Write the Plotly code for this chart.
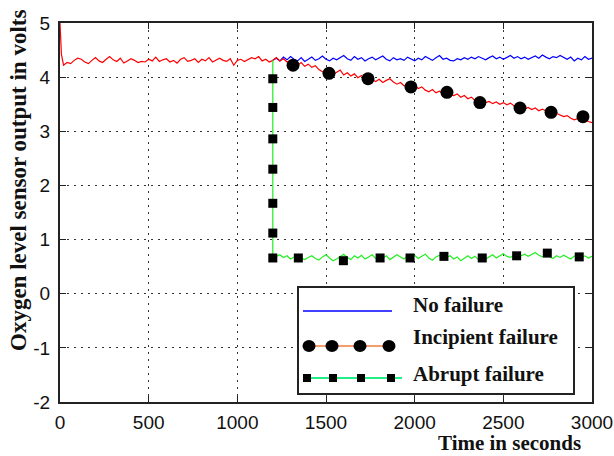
import plotly.graph_objects as go

# ---------------- data ----------------
# Incipient failure (red), sampled every 20 s (plus the start spike)
red_t = [0, 8] + list(range(20, 3001, 20))
red_y = [5.00, 4.42,
         4.22, 4.27, 4.25, 4.31, 4.35, 4.33, 4.28, 4.25, 4.31, 4.36,
         4.30, 4.27, 4.33, 4.38, 4.32, 4.29, 4.35, 4.26, 4.30, 4.34,
         4.31, 4.27, 4.29, 4.28, 4.33, 4.30, 4.37, 4.29, 4.32, 4.34,
         4.28, 4.31, 4.26, 4.33, 4.36, 4.29, 4.31, 4.34, 4.27, 4.33,
         4.30, 4.36, 4.28, 4.32, 4.35, 4.31, 4.29, 4.34, 4.22, 4.31,
         4.33, 4.29, 4.32, 4.36, 4.34, 4.38, 4.30, 4.33, 4.28, 4.31,
         4.36, 4.30, 4.34, 4.28, 4.31, 4.25, 4.22, 4.27, 4.20, 4.24,
         4.18, 4.21, 4.14, 4.10, 4.06, 4.11, 4.05, 4.09, 4.13, 4.04,
         4.08, 4.02, 4.06, 3.99, 4.03, 3.97, 4.01, 3.95, 3.92, 3.96,
         3.90, 3.94, 3.97, 3.91, 3.87, 3.90, 3.84, 3.86, 3.81, 3.84,
         3.79, 3.82, 3.76, 3.73, 3.77, 3.71, 3.74, 3.70, 3.73, 3.68,
         3.66, 3.69, 3.63, 3.66, 3.60, 3.63, 3.57, 3.54, 3.56, 3.53,
         3.55, 3.51, 3.54, 3.50, 3.53, 3.49, 3.52, 3.47, 3.44, 3.43,
         3.41, 3.44, 3.40, 3.43, 3.38, 3.41, 3.37, 3.34, 3.36, 3.33,
         3.30, 3.27, 3.29, 3.24, 3.21, 3.23, 3.26, 3.22, 3.18, 3.16]

# No failure (blue), from 1200 s
blue_t = list(range(1200, 3001, 20))
blue_y = [4.31,
          4.35, 4.30, 4.37, 4.32, 4.38, 4.33, 4.30, 4.36, 4.29, 4.33,
          4.37, 4.31, 4.34, 4.39, 4.33, 4.30, 4.35, 4.32, 4.36, 4.40,
          4.34, 4.31, 4.38, 4.33, 4.36, 4.30, 4.34, 4.37, 4.32, 4.35,
          4.39, 4.33, 4.30, 4.36, 4.32, 4.34, 4.31, 4.37, 4.33, 4.30,
          4.35, 4.32, 4.38, 4.34, 4.31, 4.36, 4.40, 4.33, 4.35, 4.31,
          4.30, 4.34, 4.32, 4.36, 4.33, 4.37, 4.34, 4.38, 4.35, 4.32,
          4.36, 4.39, 4.34, 4.37, 4.33, 4.36, 4.40, 4.35, 4.38, 4.34,
          4.37, 4.33, 4.36, 4.39, 4.35, 4.41, 4.37, 4.34, 4.38, 4.36,
          4.40, 4.36, 4.33, 4.37, 4.30, 4.35, 4.32, 4.38, 4.33, 4.35]

# Abrupt failure (green): drop at 1200 s
green_t = [1200, 1200] + list(range(1220, 3001, 20))
green_y = [4.31, 0.66,
           0.69, 0.72, 0.67, 0.70, 0.64, 0.68, 0.71, 0.66, 0.63, 0.67,
           0.70, 0.65, 0.62, 0.68, 0.72, 0.66, 0.61, 0.64, 0.69, 0.73,
           0.67, 0.63, 0.70, 0.66, 0.71, 0.64, 0.68, 0.72, 0.65, 0.69,
           0.66, 0.70, 0.63, 0.67, 0.72, 0.68, 0.64, 0.70, 0.66, 0.71,
           0.65, 0.69, 0.73, 0.66, 0.62, 0.68, 0.71, 0.64, 0.67, 0.70,
           0.64, 0.68, 0.61, 0.66, 0.70, 0.65, 0.69, 0.63, 0.67, 0.64,
           0.68, 0.72, 0.66, 0.70, 0.74, 0.69, 0.67, 0.71, 0.75, 0.70,
           0.73, 0.69, 0.72, 0.76, 0.71, 0.68, 0.72, 0.69, 0.65, 0.70,
           0.67, 0.71, 0.68, 0.64, 0.69, 0.72, 0.67, 0.70, 0.66, 0.69]

# marker samples
circ_t = [1314, 1517, 1737, 1979, 2182, 2368, 2594, 2769, 2949]
circ_y = [4.22, 4.07, 3.97, 3.82, 3.72, 3.53, 3.43, 3.35, 3.27]
sq_t = [1200, 1200, 1200, 1200, 1200, 1200, 1200,
        1344, 1598, 1805, 1974, 2165, 2381, 2575, 2748, 2928]
sq_y = [3.97, 3.44, 2.86, 2.30, 1.67, 1.12, 0.66,
        0.66, 0.61, 0.66, 0.66, 0.69, 0.66, 0.70, 0.75, 0.68]

x_ticks = [0, 500, 1000, 1500, 2000, 2500, 3000]
x_tick_text = ["0", "500", "1000", "1500", "2000", "2500", "3000"]
y_ticks = [-2, -1, 0, 1, 2, 3, 4, 5]
y_tick_text = ["-2", "-1", "0", "1", "2", "3", "4", "5"]
legend_names = ["No failure", "Incipient failure", "Abrupt failure"]

assert len(red_t) == len(red_y)
assert len(blue_t) == len(blue_y)
assert len(green_t) == len(green_y)

# ---------------- figure ----------------
W, H = 614, 456
ML, MR, MT, MB = 60, 22, 23, 54
PW, PH = W - ML - MR, H - MT - MB


def px(xp):
    return (xp - ML) / PW


def py(yp):
    return (H - MB - yp) / PH


SERIF = "Liberation Serif, Times New Roman, serif"
SANS = "Liberation Sans, Arial, sans-serif"

fig = go.Figure()
fig.add_trace(go.Scatter(x=blue_t, y=blue_y, mode="lines",
                         line=dict(color="#0000ff", width=1.2), showlegend=False))
fig.add_trace(go.Scatter(x=red_t, y=red_y, mode="lines",
                         line=dict(color="#ff0000", width=1.2), showlegend=False))
fig.add_trace(go.Scatter(x=green_t, y=green_y, mode="lines",
                         line=dict(color="#22ee22", width=1.2), showlegend=False))
fig.add_trace(go.Scatter(x=circ_t, y=circ_y, mode="markers",
                         marker=dict(symbol="circle", size=13, color="black"),
                         showlegend=False))
fig.add_trace(go.Scatter(x=sq_t, y=sq_y, mode="markers",
                         marker=dict(symbol="square", size=9, color="black"),
                         showlegend=False))

axis_common = dict(
    showline=True, linecolor="#222", linewidth=2, mirror="ticks",
    ticks="inside", ticklen=6, tickwidth=1, tickcolor="#222",
    showgrid=True, gridcolor="#333", gridwidth=1, griddash="2px,5px",
    zeroline=False, automargin=False,
    tickfont=dict(family=SANS, size=19, color="#111"),
)
fig.update_xaxes(range=[0, 3000], tickvals=x_ticks, ticktext=x_tick_text,
                 ticklabelstandoff=2, **axis_common)
fig.update_yaxes(range=[-2, 5], tickvals=y_ticks, ticktext=y_tick_text,
                 ticklabelstandoff=4, **axis_common)

shapes = []
annotations = []
# legend box
shapes.append(dict(type="rect", xref="paper", yref="paper",
                   x0=px(298), x1=px(574), y0=py(394), y1=py(287),
                   line=dict(color="#222", width=2), fillcolor="white", layer="above"))
# legend samples
shapes.append(dict(type="line", xref="paper", yref="paper",
                   x0=px(303), x1=px(392), y0=py(311), y1=py(311),
                   line=dict(color="#0000ff", width=1.5)))
shapes.append(dict(type="line", xref="paper", yref="paper",
                   x0=px(309), x1=px(389), y0=py(346), y1=py(346),
                   line=dict(color="#f79c6b", width=2)))
for cx in [309, 332, 360, 389]:
    shapes.append(dict(type="circle", xref="paper", yref="paper",
                       xsizemode="pixel", ysizemode="pixel",
                       xanchor=px(cx), yanchor=py(346),
                       x0=-6.5, x1=6.5, y0=-6, y1=6,
                       fillcolor="black", line=dict(width=0)))
shapes.append(dict(type="line", xref="paper", yref="paper",
                   x0=px(307), x1=px(402), y0=py(378), y1=py(378),
                   line=dict(color="#22ee88", width=2)))
for cx in [307, 333, 361, 391]:
    shapes.append(dict(type="rect", xref="paper", yref="paper",
                       xsizemode="pixel", ysizemode="pixel",
                       xanchor=px(cx), yanchor=py(378),
                       x0=-4, x1=4, y0=-4, y1=4,
                       fillcolor="black", line=dict(width=0)))
for name, cy in zip(legend_names, [305, 337, 374]):
    annotations.append(dict(text="<b>" + name + "</b>", xref="paper", yref="paper",
                            x=px(411), y=py(cy), xanchor="left", yanchor="middle",
                            showarrow=False,
                            font=dict(family=SERIF, size=21, color="#111")))

# axis titles
annotations.append(dict(text="<b>Time in seconds</b>", xref="paper", yref="paper",
                        x=px(509), y=py(443), xanchor="center", yanchor="middle",
                        showarrow=False, font=dict(family=SERIF, size=21, color="#111")))
annotations.append(dict(text="<b>Oxygen level sensor output in volts</b>",
                        xref="paper", yref="paper", textangle=-90,
                        x=px(18), y=py(181), xanchor="center", yanchor="middle",
                        showarrow=False, font=dict(family=SERIF, size=23, color="#111")))

fig.update_layout(
    width=W, height=H, autosize=False,
    margin=dict(l=ML, r=MR, t=MT, b=MB, autoexpand=False),
    paper_bgcolor="white", plot_bgcolor="white",
    showlegend=False,
    shapes=shapes, annotations=annotations,
)

fig.write_html("out.html",
               config={"displayModeBar": False, "responsive": False},
               post_script="document.body.style.margin='0px';document.body.style.padding='0px';")
